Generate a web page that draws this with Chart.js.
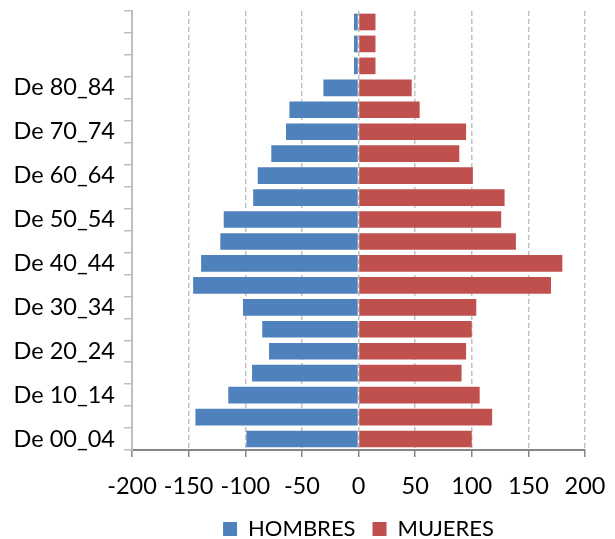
<!DOCTYPE html>
<html>
<head>
<meta charset="utf-8">
<script src="https://cdn.jsdelivr.net/npm/chart.js@4"></script>
<style>
  body { margin: 0; background: #ffffff; }
  #wrap { width: 615px; height: 539px; }
</style>
</head>
<body>
<div id="wrap"><canvas id="chart" width="615" height="539"></canvas></div>
<script>
// categories bottom to top (top three have no name in the source)
const categories = ['De 00_04', 'De 05_09', 'De 10_14', 'De 15_19', 'De 20_24', 'De 25_29',
    'De 30_34', 'De 35_39', 'De 40_44', 'De 45_49', 'De 50_54', 'De 55_59', 'De 60_64',
    'De 65_69', 'De 70_74', 'De 75_79', 'De 80_84', '', '', ''];

const hombres = [-99, -144, -115, -94, -79, -85, -102, -146, -139, -122, -119, -93, -89,
    -77, -64, -61, -31, -4, -4, -4];
const mujeres = [100, 118, 107, 91, 95, 100, 104, 170, 180, 139, 126, 129, 101,
    89, 95, 54, 47, 15, 15, 15];

const xTicks = [-200, 200, 50]; // min, max, step

const axisFont = { family: 'Lato', size: 23.5 };
const legendFont = { family: 'Lato', size: 22 };

new Chart(document.getElementById('chart'), {
    type: 'bar',
    data: {
        labels: categories,
        datasets: [
            { label: 'HOMBRES', data: hombres, backgroundColor: '#4f81bd' },
            { label: 'MUJERES', data: mujeres, backgroundColor: '#c0504d' }
        ]
    },
    options: {
        indexAxis: 'y',
        responsive: false,
        animation: false,
        barPercentage: 0.76,
        categoryPercentage: 1,
        layout: { padding: { top: 11, right: 30, bottom: -11, left: 0 } },
        plugins: {
            legend: {
                position: 'bottom',
                fullSize: false,
                labels: {
                    boxWidth: 14,
                    boxHeight: 14,
                    padding: 17,
                    color: '#000000',
                    font: legendFont
                }
            },
            tooltip: { enabled: false }
        },
        scales: {
            x: {
                stacked: true,
                min: xTicks[0],
                max: xTicks[1],
                ticks: { stepSize: xTicks[2], color: '#000000', font: axisFont, padding: 15 },
                grid: {
                    color: '#c0c0c0',
                    tickColor: '#868686',
                    tickLength: 7,
                    lineWidth: 1.5
                },
                border: { display: true, color: '#868686', width: 2, dash: [5, 3] },
                afterFit: (scale) => {
                    scale.height = 51;
                    scale.paddingRight = 0;
                }
            },
            y: {
                stacked: true,
                reverse: true,
                ticks: {
                    autoSkip: false,
                    color: '#000000',
                    font: axisFont,
                    padding: 9,
                    callback: function (value, index) {
                        return index % 2 === 0 ? this.getLabelForValue(value) : '';
                    }
                },
                grid: {
                    offset: true,
                    drawOnChartArea: false,
                    color: '#bfbfbf',
                    tickLength: 8,
                    lineWidth: 1.5
                },
                border: { display: true, color: '#bfbfbf', width: 2 },
                afterFit: (scale) => {
                    scale.width = 132;
                    scale.paddingTop = 0;
                    scale.paddingBottom = 0;
                }
            }
        }
    }
});
</script>
</body>
</html>
